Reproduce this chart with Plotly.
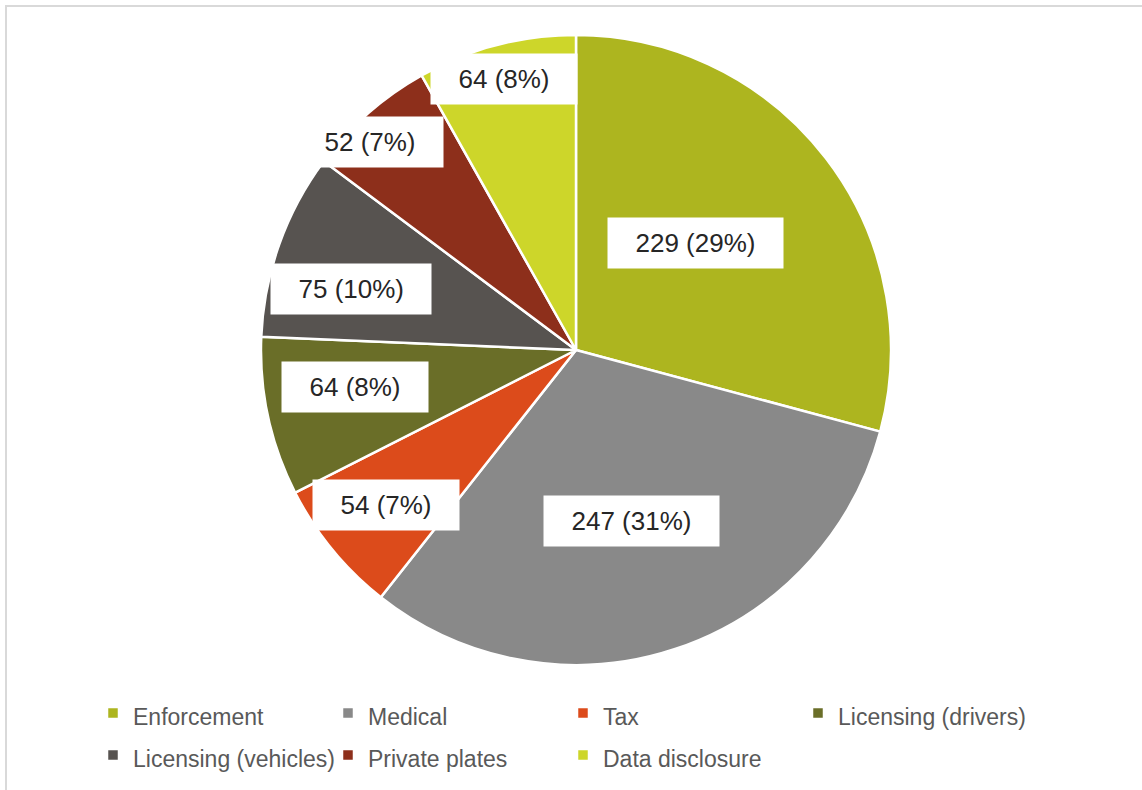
import math
import plotly.graph_objects as go

categories = ["Enforcement", "Medical", "Tax", "Licensing (drivers)",
              "Licensing (vehicles)", "Private plates", "Data disclosure"]
values = [229, 247, 54, 64, 75, 52, 64]
colors = ["#adb51f", "#898989", "#dc4b1b", "#6a6e28", "#575350", "#8d2f1b", "#cdd62a"]
# label placement (fraction of radius, angle tweak in degrees)
label_radius = [0.51, 0.57, 0.78, 0.71, 0.74, 0.93, 0.89]
label_angle_shift = [-4.3, 0.5, 0.1, 2.8, -4.4, -3.4, -0.3]

W, H = 1142, 790
cx, cy, R = 576, 350, 315
LABEL_FS = 26
LEG_FS = 23

CHAR_W = {"0": 0.556, "1": 0.556, "2": 0.556, "3": 0.556, "4": 0.556, "5": 0.556,
          "6": 0.556, "7": 0.556, "8": 0.556, "9": 0.556, " ": 0.278, "(": 0.333,
          ")": 0.333, "%": 0.889}


def text_width(s, size):
    return sum(CHAR_W.get(c, 0.556) for c in s) * size


fig = go.Figure()
fig.add_trace(go.Pie(
    labels=[f"<span style='font-size:{LEG_FS}px'>{c}</span>" for c in categories],
    values=values, sort=False, direction="clockwise", rotation=0,
    marker=dict(colors=colors, line=dict(color="white", width=2.5)),
    textinfo="none", hovertemplate="%{label}: %{value} (%{percent})<extra></extra>",
    domain=dict(x=[(cx - R) / W, (cx + R) / W], y=[1 - (cy + R) / H, 1 - (cy - R) / H]),
))

total = sum(values)
cum = 0
for v, f, da in zip(values, label_radius, label_angle_shift):
    mid = (cum + v / 2) / total * 2 * math.pi + math.radians(da)
    cum += v
    px = cx + f * R * math.sin(mid)
    py = cy - f * R * math.cos(mid)
    txt = f"{v} ({round(v / total * 100)}%)"
    fig.add_annotation(
        x=px / W, y=1 - py / H, xref="paper", yref="paper",
        text=txt, showarrow=False, bgcolor="white", borderpad=10,
        width=text_width(txt, LABEL_FS) + 35, height=30, align="center",
        font=dict(family="Liberation Sans, Arial", size=LABEL_FS, color="#262626"),
        xanchor="center", yanchor="middle",
    )

fig.add_shape(type="rect", xref="paper", yref="paper",
              x0=6 / W, y0=1 - 6 / H, x1=1.05, y1=-0.05,
              line=dict(color="#d9d9d9", width=2), fillcolor="rgba(0,0,0,0)")

fig.update_layout(
    width=W, height=H, margin=dict(l=0, r=0, t=0, b=0),
    paper_bgcolor="white", plot_bgcolor="white",
    showlegend=True,
    legend=dict(orientation="h", x=93 / W, xanchor="left", y=1 - 687 / H, yanchor="top",
                entrywidth=190, entrywidthmode="pixels",
                font=dict(family="Liberation Sans, Arial", size=30, color="#595959"),
                bgcolor="rgba(0,0,0,0)"),
)

fig.write_html("out.html")
